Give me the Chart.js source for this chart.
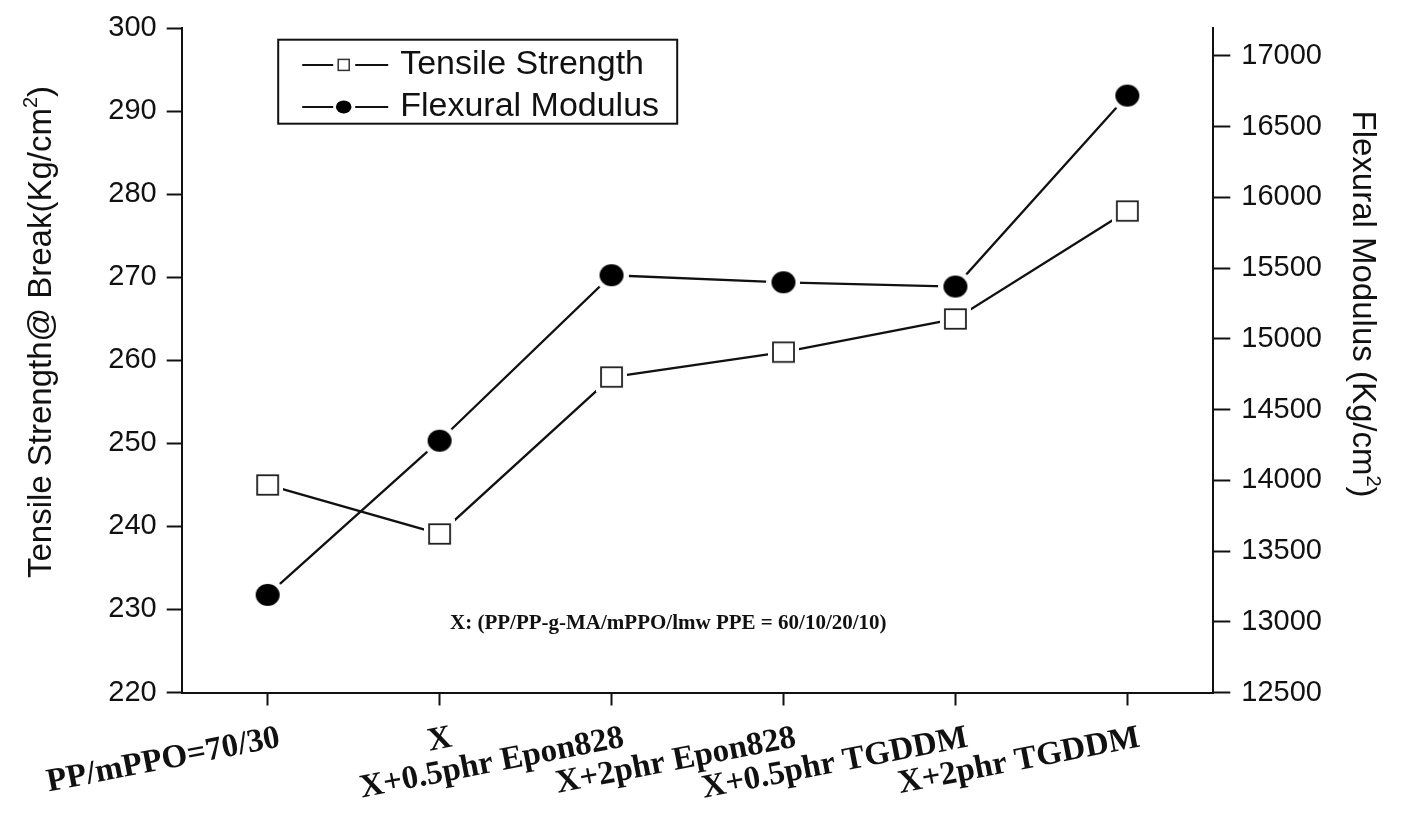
<!DOCTYPE html>
<html>
<head>
<meta charset="utf-8">
<script src="https://cdn.jsdelivr.net/npm/chart.js@4.4.1/dist/chart.umd.min.js"></script>
<style>
  html, body { margin: 0; padding: 0; background: #ffffff; }
  canvas { display: block; }
</style>
</head>
<body>
<canvas id="chart" width="1401" height="824"></canvas>
<script>
// ---------------- data ----------------
const categories = ['PP/mPPO=70/30', 'X', 'X+0.5phr Epon828', 'X+2phr Epon828', 'X+0.5phr TGDDM', 'X+2phr TGDDM'];
const seriesNames = ['Tensile Strength', 'Flexural Modulus'];
const tensileStrength = [245, 239.1, 258, 261, 265, 278];
const flexuralModulus = [13190, 14280, 15450, 15400, 15370, 16720];
const leftTickValues = [220, 230, 240, 250, 260, 270, 280, 290, 300];
const rightTickValues = [12500, 13000, 13500, 14000, 14500, 15000, 15500, 16000, 16500, 17000];
const leftTitle = ['Tensile Strength@ Break(Kg/cm', '2', ')'];
const rightTitle = ['Flexural Modulus (Kg/cm', '2', ')'];
const noteText = 'X: (PP/PP-g-MA/mPPO/lmw PPE = 60/10/20/10)';
const notePosition = [2.33, 228.3];   // [category index, left-axis value]

// ---------------- marker images ----------------
function makeSquareMarker(w, h, gap) {
  const W = Math.ceil(w + 2 * gap), H = Math.ceil(h + 2 * gap);
  const c = document.createElement('canvas');
  c.width = W; c.height = H;
  const g = c.getContext('2d');
  g.fillStyle = '#ffffff';
  g.fillRect(0, 0, W, H);
  g.strokeStyle = '#222222';
  g.lineWidth = 1.8;
  g.strokeRect((W - w) / 2, (H - h) / 2, w, h);
  return c;
}
function makeCircleMarker(rx, ry, gap) {
  const W = Math.ceil(2 * (rx + gap)), H = Math.ceil(2 * (ry + gap));
  const c = document.createElement('canvas');
  c.width = W; c.height = H;
  const g = c.getContext('2d');
  g.fillStyle = '#ffffff';
  g.beginPath(); g.ellipse(W / 2, H / 2, rx + gap, ry + gap, 0, 0, Math.PI * 2); g.fill();
  g.fillStyle = '#000000';
  g.beginPath(); g.ellipse(W / 2, H / 2, rx, ry, 0, 0, Math.PI * 2); g.fill();
  return c;
}
const squareMarker = makeSquareMarker(21, 19.5, 5);
const circleMarker = makeCircleMarker(12, 11, 5);

// ---------------- helpers ----------------
function drawSupText(g, parts, font, supFont, supRaise) {
  g.font = font;
  const w0 = g.measureText(parts[0]).width;
  const w2 = g.measureText(parts[2]).width;
  g.font = supFont;
  const w1 = g.measureText(parts[1]).width;
  const total = w0 + w1 + w2;
  let x = -total / 2;
  g.textAlign = 'left';
  g.textBaseline = 'alphabetic';
  g.font = font; g.fillText(parts[0], x, 0); x += w0;
  g.font = supFont; g.fillText(parts[1], x, -supRaise); x += w1;
  g.font = font; g.fillText(parts[2], x, 0);
}

const decorPlugin = {
  id: 'decor',
  afterDraw(chart) {
    const g = chart.ctx;
    const area = chart.chartArea;
    const xs = chart.scales.x, ys = chart.scales.y;
    g.save();
    g.fillStyle = '#111111';

    // axis titles
    g.save();
    g.translate(51, 332);
    g.rotate(-Math.PI / 2);
    drawSupText(g, leftTitle, '33px "Liberation Sans", Arial, sans-serif', '20px "Liberation Sans", Arial, sans-serif', 14);
    g.restore();

    g.save();
    g.translate(1353, 304);
    g.rotate(Math.PI / 2);
    drawSupText(g, rightTitle, '33px "Liberation Sans", Arial, sans-serif', '20px "Liberation Sans", Arial, sans-serif', 14);
    g.restore();

    // note
    const i0 = Math.floor(notePosition[0]);
    const nx = xs.getPixelForValue(i0) + (notePosition[0] - i0) * (xs.getPixelForValue(i0 + 1) - xs.getPixelForValue(i0));
    const ny = ys.getPixelForValue(notePosition[1]);
    g.font = 'bold 21px "Liberation Serif", "Times New Roman", serif';
    g.textAlign = 'center';
    g.textBaseline = 'middle';
    g.fillText(noteText, nx, ny);

    // legend box
    const bx = area.left + 96.5, by = area.top + 11.3, bw = 399, bh = 84;
    g.strokeStyle = '#111111';
    g.lineWidth = 2;
    g.strokeRect(bx, by, bw, bh);
    const rows = [area.top + 36.5, area.top + 78.5];
    chart.data.datasets.forEach((ds, i) => {
      const ry = rows[i];
      g.strokeStyle = '#111111';
      g.lineWidth = 2;
      g.beginPath();
      g.moveTo(bx + 24, ry); g.lineTo(bx + 55, ry);
      g.moveTo(bx + 77, ry); g.lineTo(bx + 110, ry);
      g.stroke();
      const cx = bx + 65.5;
      if (i === 0) {
        g.fillStyle = '#ffffff';
        g.fillRect(cx - 5.5, ry - 5.5, 11, 11);
        g.strokeStyle = '#333333';
        g.lineWidth = 1.5;
        g.strokeRect(cx - 5.5, ry - 5.5, 11, 11);
      } else {
        g.fillStyle = '#000000';
        g.beginPath(); g.ellipse(cx, ry, 7.8, 6.5, 0, 0, Math.PI * 2); g.fill();
      }
      g.fillStyle = '#111111';
      g.font = '34px "Liberation Sans", Arial, sans-serif';
      g.textAlign = 'left';
      g.textBaseline = 'middle';
      g.fillText(ds.label, bx + 122, ry);
    });
    g.restore();
  }
};

// ---------------- chart ----------------
const axisColor = '#111111';
const tickFont = { family: '"Liberation Sans", Arial, sans-serif', size: 29 };

new Chart(document.getElementById('chart').getContext('2d'), {
  type: 'line',
  data: {
    labels: categories,
    datasets: [
      {
        label: seriesNames[0],
        data: tensileStrength,
        yAxisID: 'y',
        borderColor: '#111111',
        borderWidth: 2.3,
        pointStyle: squareMarker,
        pointRadius: 12,
        pointHoverRadius: 12,
        tension: 0,
        fill: false
      },
      {
        label: seriesNames[1],
        data: flexuralModulus,
        yAxisID: 'y1',
        borderColor: '#111111',
        borderWidth: 2.3,
        pointStyle: circleMarker,
        pointRadius: 12,
        pointHoverRadius: 12,
        tension: 0,
        fill: false
      }
    ]
  },
  options: {
    responsive: false,
    devicePixelRatio: 1,
    animation: false,
    events: [],
    layout: { padding: { top: 21.7, left: 0, right: 0, bottom: 0 } },
    plugins: { legend: { display: false }, tooltip: { enabled: false }, title: { display: false } },
    scales: {
      x: {
        type: 'category',
        offset: true,
        border: { display: true, color: axisColor, width: 2 },
        grid: { display: true, drawOnChartArea: false, drawTicks: true, tickLength: 13, tickColor: axisColor, tickWidth: 2 },
        ticks: {
          autoSkip: false,
          minRotation: 11,
          maxRotation: 11,
          color: '#111111',
          padding: 13,
          labelOffset: 12,
          font: { family: '"Liberation Serif", "Times New Roman", serif', weight: 'bold', size: 33 }
        },
        afterFit(scale) { scale.height = 824 - 692.5; }
      },
      y: {
        position: 'left',
        min: 220,
        max: 300,
        border: { display: true, color: axisColor, width: 2 },
        grid: { display: true, drawOnChartArea: false, drawTicks: true, tickLength: 15, tickColor: axisColor, tickWidth: 2 },
        ticks: { color: '#111111', padding: 10, font: tickFont, callback: (v) => String(v) },
        afterBuildTicks(scale) { scale.ticks = leftTickValues.map(v => ({ value: v })); },
        afterFit(scale) { scale.width = 181.7; }
      },
      y1: {
        position: 'right',
        min: 12500,
        max: 17195,
        border: { display: true, color: axisColor, width: 2 },
        grid: { display: true, drawOnChartArea: false, drawTicks: true, tickLength: 17, tickColor: axisColor, tickWidth: 2 },
        ticks: { color: '#111111', padding: 11, font: tickFont, callback: (v) => String(v) },
        afterBuildTicks(scale) { scale.ticks = rightTickValues.map(v => ({ value: v })); },
        afterFit(scale) { scale.width = 1401 - 1213.3; }
      }
    }
  },
  plugins: [decorPlugin]
});
</script>
</body>
</html>
